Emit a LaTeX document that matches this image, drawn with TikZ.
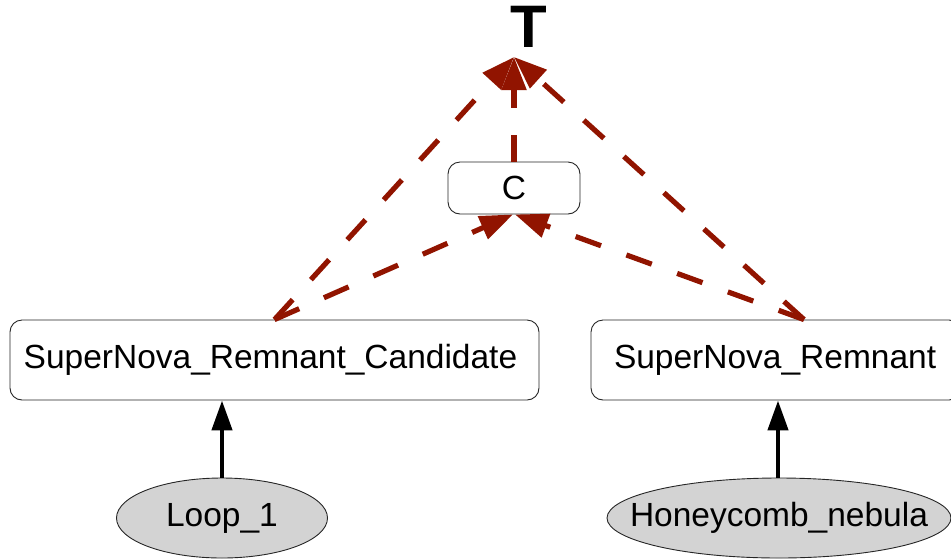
\documentclass[tikz,border=0pt]{standalone}
\usepackage{fontspec}
\setmainfont{Liberation Sans}
\usetikzlibrary{arrows.meta,shapes.geometric}
\definecolor{edgered}{RGB}{145,20,0}
\definecolor{nodegray}{RGB}{211,211,211}
\tikzset{
  classbox/.style={draw=black!85,line width=0.9pt,rounded corners=12pt,fill=white,inner sep=0pt,font=\fontsize{33.5}{33.5}\selectfont},
  instnode/.style={ellipse,draw=black!85,line width=0.9pt,fill=nodegray,inner xsep=-40pt,inner ysep=-5pt,font=\fontsize{33.5}{33.5}\selectfont},
  subarrow/.style={edgered,line width=5.2pt,dash pattern=on 27pt off 27pt,-{Triangle[length=33pt,width=24pt]}},
  typearrow/.style={black,line width=4.5pt,-{Triangle[length=30pt,width=20pt]}}
}
\begin{document}
\begin{tikzpicture}[x=1pt,y=-1pt]
\useasboundingbox (0,0) rectangle (951,558);
\node[font=\fontsize{60}{60}\bfseries\selectfont,inner sep=0pt] (T) at (529,27) {T};
\coordinate (tp) at (514,57);
\node[classbox,minimum width=132pt,minimum height=52pt] (C) at (514,188) {C};
\node[classbox,minimum width=529pt,minimum height=80pt] (snrc) at (274.5,360) {\hspace{-8pt}SuperNova\_Remnant\_Candidate};
\node[classbox,minimum width=370pt,minimum height=80pt,text width=370pt,align=left] (snr) at (776,360) {\hspace{23pt}SuperNova\_Remnant};
\node[instnode,minimum width=211pt,minimum height=80pt] (loop) at (222,518) {Loop\_1};
\node[instnode,minimum width=344pt,minimum height=80pt] (honey) at (779,518) {Honeycomb\_nebula};
\coordinate (s1) at (snrc.north);
\coordinate (s2) at ([xshift=28pt]snr.north);
\draw[subarrow] (s1) -- (tp);
\draw[subarrow] (s1) -- ([xshift=-1pt]C.south);
\draw[subarrow] (s2) -- ([xshift=1pt]C.south);
\draw[subarrow] (s2) -- (tp);
\draw[subarrow] (C.north) -- (tp);
\draw[typearrow] (loop.north) -- (loop.north |- snrc.south);
\draw[typearrow] ([xshift=-1pt]honey.north) -- ([xshift=-1pt]honey.north |- snr.south);
\end{tikzpicture}
\end{document}
